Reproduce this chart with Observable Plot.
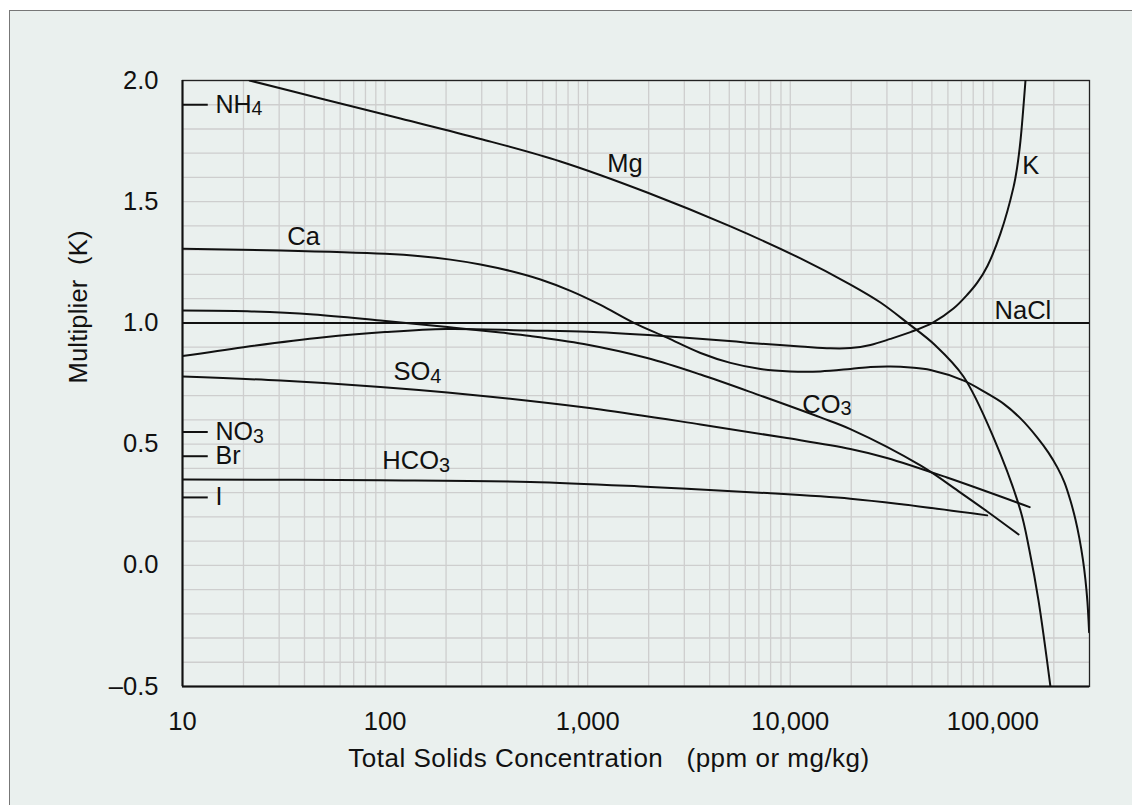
<!DOCTYPE html>
<html>
<head>
<meta charset="utf-8">
<script src="https://cdn.jsdelivr.net/npm/d3@7"></script>
<script src="https://cdn.jsdelivr.net/npm/@observablehq/plot@0.6"></script>
<style>
  html, body { margin: 0; padding: 0; background: #ffffff; }
  #panel {
    position: absolute; left: 9px; top: 10px; width: 1130px; height: 800px;
    background: #eaf0ee; border-left: 1px solid #777; border-top: 1px solid #777;
  }
  #chart { position: absolute; left: 0; top: 0; }
  #chart svg text { white-space: pre; }
</style>
</head>
<body>
<div id="panel"></div>
<div id="chart"></div>
<script>
// Conductivity multipliers (K) versus total solids concentration, ppm.
// Each series is a list of [concentration, multiplier] pairs.
const Mg = [[21.4, 2.0], [48.0, 1.926], [119, 1.843], [296, 1.759], [734, 1.666], [1966, 1.538],
  [5069, 1.398], [11230, 1.266], [19820, 1.158], [27880, 1.084], [37880, 1.0], [52080, 0.907],
  [71610, 0.779], [100700, 0.528], [136900, 0.226], [151600, 0.061], [168000, -0.145], [192400, -0.5]];
const Ca = [[10, 1.306], [30.5, 1.299], [100, 1.285], [149.5, 1.275], [210.3, 1.261], [295.7, 1.241],
  [415.9, 1.214], [584.9, 1.179], [822.6, 1.132], [1157, 1.074], [1690, 1.0], [2449, 0.94],
  [3606, 0.876], [5069, 0.835], [7130, 0.81], [10010, 0.80], [14090, 0.80], [19820, 0.81],
  [24880, 0.818], [31240, 0.82], [39210, 0.816], [49210, 0.806], [71850, 0.762], [91930, 0.713],
  [113200, 0.666], [136900, 0.606], [165400, 0.528], [188100, 0.465], [208400, 0.403],
  [225600, 0.342], [241500, 0.267], [255700, 0.189], [267600, 0.11], [278400, 0.023],
  [286400, -0.059], [293000, -0.15], [298700, -0.276]];
const K = [[10, 0.863], [20, 0.90], [50, 0.941], [100, 0.962], [200, 0.975], [500, 0.969],
  [1000, 0.964], [2000, 0.95], [5000, 0.925], [7130, 0.914], [11230, 0.903], [15790, 0.895],
  [19820, 0.896], [24880, 0.909], [31240, 0.934], [39210, 0.962], [50350, 1.0], [63900, 1.059],
  [74940, 1.117], [83950, 1.167], [94040, 1.235], [109000, 1.368], [126400, 1.559],
  [131800, 1.642], [136900, 1.752], [144900, 2.0]];
const CO3 = [[10, 1.051], [20.9, 1.048], [44.4, 1.035], [94.8, 1.01], [203, 0.983], [372, 0.96],
  [522, 0.946], [957, 0.913], [1967, 0.855], [3606, 0.787], [7130, 0.70], [14100, 0.61],
  [19800, 0.562], [43900, 0.412], [69200, 0.30], [93800, 0.222], [134000, 0.127]];
const SO4 = [[10, 0.779], [30.5, 0.762], [94.8, 0.736], [203, 0.713], [522, 0.678], [1156, 0.643],
  [3606, 0.581], [9290, 0.527], [19800, 0.48], [30000, 0.443], [59400, 0.362], [152000, 0.24]];
const HCO3 = [[10, 0.354], [94.8, 0.351], [522, 0.344], [2042, 0.323], [7690, 0.298],
  [19800, 0.275], [36300, 0.251], [93800, 0.206]];
const NaCl = [[10, 1.0], [300000, 1.0]];

// Single-value ions marked at the left edge
const ionNames = ["NH4", "NO3", "Br", "I"];
const ionValues = [1.9, 0.55, 0.45, 0.28];

// Curve labels: name, concentration at the label's left edge, multiplier at its middle
const labelNames = ["Mg", "Ca", "K", "NaCl", "SO4", "HCO3", "CO3"];
const labelX = [1248, 32.9, 139700, 102000, 110, 96.9, 11460];
const labelY = [1.658, 1.354, 1.646, 1.051, 0.797, 0.429, 0.664];

const xTicks = [10, 100, 1000, 10000, 100000];
const yTicks = [-0.5, 0, 0.5, 1.0, 1.5, 2.0];

const series = {Mg, Ca, K, CO3, SO4, HCO3, NaCl};
const rows = Object.entries(series).flatMap(([ion, pts]) => pts.map(([v, k]) => ({ion, v, k})));
const ions = ionNames.map((name, i) => ({name, k: ionValues[i]}));
const labels = labelNames.map((name, i) => ({name, v: labelX[i], k: labelY[i]}));

// log grid: 1..9 within each decade, plus tenths on the multiplier axis
const xGrid = [];
for (let e = 1; e <= 5; ++e) for (let m = 1; m <= 9; ++m) { const v = m * 10 ** e; if (v < 300000) xGrid.push(v); }
const yGrid = d3.range(-5, 21).map(i => i / 10);

const fmtY = d => (d < 0 ? "\u2013" : "") + Math.abs(d).toFixed(1);
const ink = "#111";
const font = "'Liberation Sans', Arial, Helvetica, sans-serif";

const chart = Plot.plot({
  width: 1132, height: 805,
  marginLeft: 182, marginRight: 43, marginTop: 80, marginBottom: 119,
  style: {background: "transparent", fontFamily: font, color: ink},
  x: {type: "log", domain: [10, 300000]},
  y: {domain: [-0.5, 2.0]},
  marks: [
    Plot.ruleX(xGrid, {stroke: "#cecece", strokeWidth: 1.3}),
    Plot.ruleY(yGrid, {stroke: "#cecece", strokeWidth: 1.3}),
    Plot.frame({stroke: "#222", strokeWidth: 1.3}),
    Plot.ruleX([10], {stroke: ink, strokeWidth: 2}),
    Plot.ruleY([-0.5], {stroke: ink, strokeWidth: 2}),
    Plot.axisX(xTicks, {tickSize: 0, tickPadding: 25, tickFormat: d3.format(","), fontSize: 25.5, label: null}),
    Plot.axisY(yTicks, {tickSize: 0, tickPadding: 24, tickFormat: fmtY, fontSize: 25.5, label: null}),
    Plot.line(rows, {x: "v", y: "k", z: "ion", curve: "catmull-rom", stroke: ink, strokeWidth: 2, clip: true}),
    Plot.ruleY(ions, {y: "k", x1: 10, x2: 13.4, stroke: ink, strokeWidth: 2}),
    Plot.text(ions, {x: 10, y: "k", text: "name", dx: 33, textAnchor: "start", fontSize: 25, fill: ink}),
    Plot.text(labels, {x: "v", y: "k", text: "name", textAnchor: "start", fontSize: 25.5, fill: ink}),
    Plot.text(["Multiplier  (K)"], {frameAnchor: "left", dx: -104, rotate: -90, lineAnchor: "middle", fontSize: 25.5, fill: ink}),
    Plot.text(["Total Solids Concentration   (ppm or mg/kg)"], {frameAnchor: "bottom", lineAnchor: "middle", dx: -27, dy: 72, fontSize: 26, fill: ink})
  ]
});

// slightly open tracking on the two axis titles
chart.querySelectorAll("text").forEach(t => {
  if (t.textContent.startsWith("Total")) t.setAttribute("letter-spacing", "0.5px");
  if (t.textContent.startsWith("Multiplier")) t.setAttribute("letter-spacing", "0.2px");
});

// chemical formulas: trailing digits become subscripts
const formulas = new Set([...ionNames, ...labelNames].filter(s => /\d$/.test(s)));
chart.querySelectorAll("text").forEach(t => {
  if (!formulas.has(t.textContent)) return;
  const m = t.textContent.match(/^(.*?)(\d+)$/);
  t.textContent = m[1];
  const sub = document.createElementNS("http://www.w3.org/2000/svg", "tspan");
  sub.setAttribute("font-size", "0.78em");
  sub.setAttribute("dy", "0.14em");
  sub.textContent = m[2];
  t.appendChild(sub);
});

document.getElementById("chart").appendChild(chart);
</script>
</body>
</html>
